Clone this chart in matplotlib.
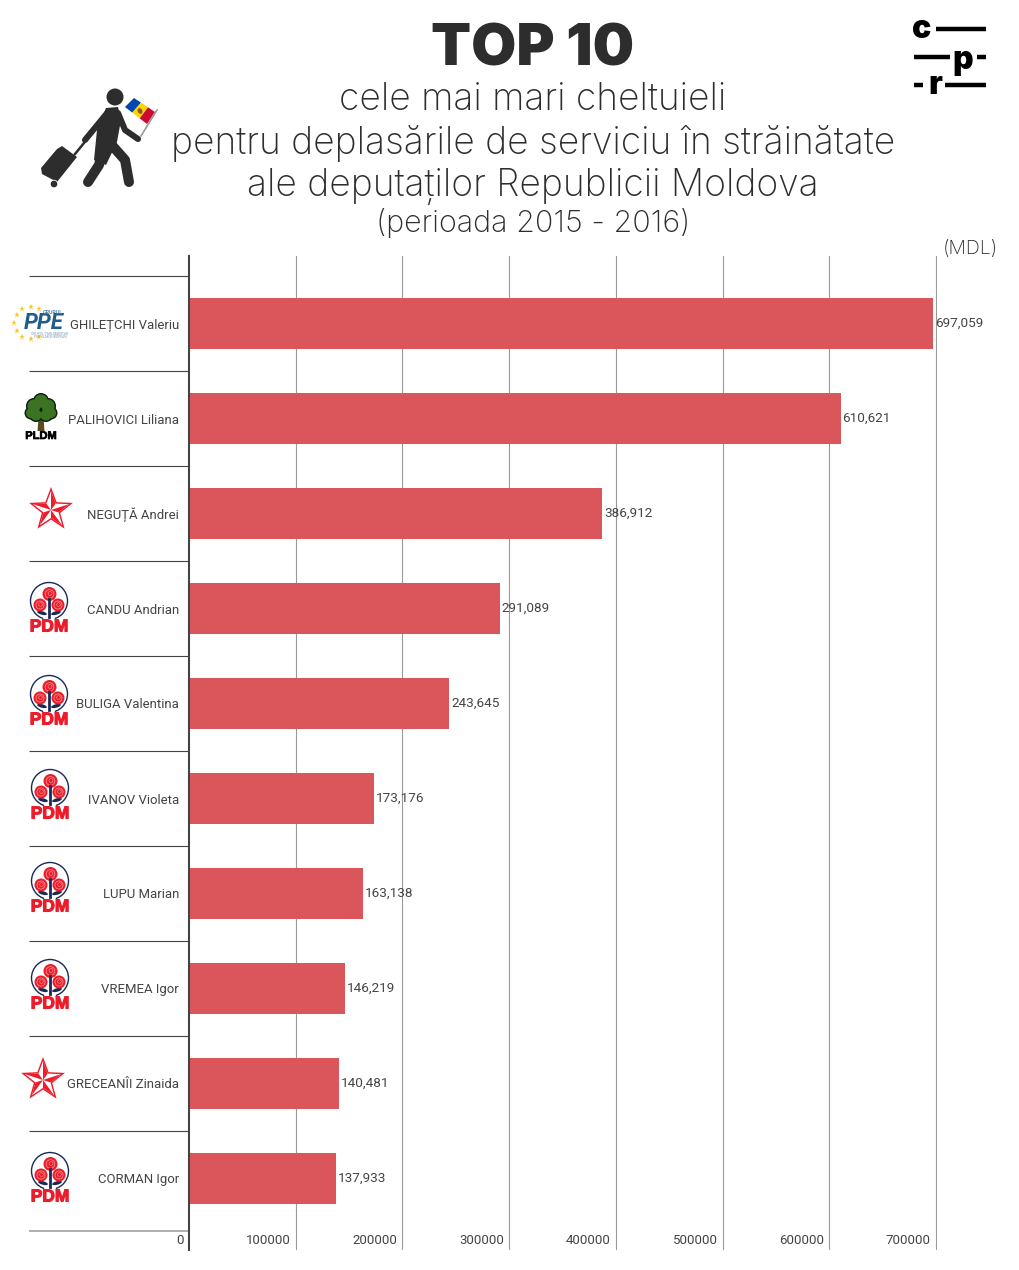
import math
import matplotlib
matplotlib.use('Agg')
import matplotlib.pyplot as plt
import matplotlib.patheffects as pe
from matplotlib.patches import Circle, Polygon, Ellipse

names = ['GHILEȚCHI Valeriu', 'PALIHOVICI Liliana', 'NEGUȚĂ Andrei', 'CANDU Andrian', 'BULIGA Valentina',
         'IVANOV Violeta', 'LUPU Marian', 'VREMEA Igor', 'GRECEANÎI Zinaida', 'CORMAN Igor']
values = [697059, 610621, 386912, 291089, 243645, 173176, 163138, 146219, 140481, 137933]
x_ticks = [100000, 200000, 300000, 400000, 500000, 600000, 700000]
title_lines = ['cele mai mari cheltuieli', 'pentru deplasările de serviciu în străinătate',
               'ale deputaților Republicii Moldova']

W, H = 1020, 1270
DARK = '#2e2d2e'
TEXT = '#444444'
BAR = '#db565b'
RED = '#ed1c2a'

def draw_star(ax, x, y, r):
    # steaua cu fatete
    outer = []
    for i in range(10):
        rad = r if i % 2 == 0 else r * 0.42
        a = math.radians(-90 + i * 36)
        outer.append((x + rad * math.cos(a), y + rad * math.sin(a)))
    ax.add_patch(Polygon(outer, color=RED, lw=0))
    inner = [(x + (px - x) * 0.82, y + (py - y) * 0.82) for px, py in outer]
    ax.add_patch(Polygon(inner, color='white', lw=0))
    for i in range(0, 10, 2):
        ax.add_patch(Polygon([(x, y), inner[i], inner[(i + 1) % 10]], color=RED, lw=0))

def draw_rose(ax, x, y, r):
    ax.add_patch(Circle((x, y), r, color=RED, lw=0))
    ax.add_patch(Circle((x, y), r * 0.62, fill=False, ec='#f6a0a0', lw=0.5))
    ax.add_patch(Circle((x + 0.5, y - 0.5), r * 0.28, fill=False, ec='#f6a0a0', lw=0.4))

def draw_pdm(ax, x, y, text_y):
    ax.add_patch(Circle((x, y), 18.5, fill=False, ec='#1b2a55', lw=1.0))
    ax.add_patch(Circle((x, y + 16), 6, color='white', lw=0))
    ax.plot([x, x], [y - 2, y + 16], color='#1b2a55', lw=2)
    ax.add_patch(Ellipse((x - 7, y + 12), 10, 3.5, angle=15, color='#1b2a55', lw=0))
    ax.add_patch(Ellipse((x + 7, y + 12), 10, 3.5, angle=-15, color='#1b2a55', lw=0))
    draw_rose(ax, x + 0.5, y - 7, 7)
    draw_rose(ax, x - 9, y + 4, 6.5)
    draw_rose(ax, x + 9, y + 4, 6.5)
    ax.text(x, text_y + 1, 'PDM', color=RED, fontsize=12.5, fontweight='bold', family='Liberation Sans',
            ha='center', va='center', path_effects=[pe.withStroke(linewidth=0.8, foreground=RED)])

def draw_ppe(ax, x, y):
    stars = [(31, 307), (39, 309), (22, 309), (17, 315), (14, 323), (17, 331), (22, 337), (31, 339), (39, 337)]
    for sx, sy in stars:
        ax.plot(sx, sy, marker='*', color='#f5c83c', ms=4.5, mew=0)
    ax.text(x + 4, y, 'PPE', color='#1f5c8c', fontsize=16, fontweight='bold', style='italic',
            family='Roboto', ha='center', va='center')
    ax.text(x + 13, y - 11, 'GRUPUL', color='#5d87a8', fontsize=3.8, fontweight='bold', ha='center', va='center',
            family='Roboto')
    ax.text(x + 10, y + 11, 'GRUPUL PARLAMENTAR', color='#7c9cb6', fontsize=2.4, ha='center', va='center',
            family='Roboto')
    ax.text(x + 10, y + 14, 'POPULAR EUROPEAN', color='#7c9cb6', fontsize=2.4, ha='center', va='center',
            family='Roboto')

def draw_pldm(ax, x, y):
    ax.add_patch(Polygon([(x - 2.5, 418), (x + 2.5, 418), (x + 3.5, 431), (x - 3.5, 431)], color='#5a4a22', lw=0))
    blobs = [(0, -17, 8), (-7, -12, 8), (7, -12, 8), (-10, -5, 6.5), (10, -5, 6.5), (-5, -3, 7), (5, -3, 7)]
    for dx, dy, r in blobs:
        ax.add_patch(Circle((x + dx, y + dy), r, color='#0d1a0a', lw=0))
    for dx, dy, r in blobs:
        ax.add_patch(Circle((x + dx, y + dy), r - 1.4, color='#3a7423', lw=0))
    ax.text(x, 436, 'PLDM', color='black', fontsize=8, fontweight='bold', family='Liberation Sans',
            ha='center', va='center', path_effects=[pe.withStroke(linewidth=0.5, foreground='black')])

def draw_traveler(ax):
    ax.add_patch(Circle((115, 97), 8.5, color=DARK, lw=0))
    ax.add_patch(Polygon([(106, 108), (118, 107), (121, 120), (117, 142), (106, 165), (94, 160), (97, 130)], color=DARK, lw=0))
    limbs = [[(108, 112), (85, 140)], [(118, 113), (125, 130), (138, 139)],
             [(103, 148), (99, 165), (88, 182)], [(110, 143), (125, 160), (129, 182)]]
    for i, limb in enumerate(limbs):
        ax.plot(*zip(*limb), color=DARK, lw=4.4 if i < 2 else 7.2, solid_capstyle='round', solid_joinstyle='round')
    ax.add_patch(Polygon([(41, 168), (57, 149), (62, 146), (77, 157), (57, 182), (42, 174)], color=DARK, lw=0))
    ax.plot([75, 84], [154, 143], color=DARK, lw=1.8)
    ax.add_patch(Circle((54, 184), 3.8, color=DARK, ec='white', lw=0.6))
    # steagul
    ax.plot([157, 141], [110, 136], color='#999999', lw=1.2)
    a, b, c, d = (125, 107), (134, 98), (155, 112), (147, 124)
    colors = ['#0046ae', '#ffd200', '#cc092f']
    for i in range(3):
        t0, t1 = i / 3, (i + 1) / 3
        ax.add_patch(Polygon([(a[0] + (d[0] - a[0]) * t0, a[1] + (d[1] - a[1]) * t0),
                              (b[0] + (c[0] - b[0]) * t0, b[1] + (c[1] - b[1]) * t0),
                              (b[0] + (c[0] - b[0]) * t1, b[1] + (c[1] - b[1]) * t1),
                              (a[0] + (d[0] - a[0]) * t1, a[1] + (d[1] - a[1]) * t1)], color=colors[i], lw=0))
    ax.add_patch(Ellipse((140, 111), 4.5, 6, angle=-30, color='#8a5a2a', lw=0))

def draw_cpr(ax):
    for x0, x1, y in [(936, 986, 29), (914, 950, 57), (977, 986, 57), (914, 923, 85), (945, 986, 85)]:
        ax.plot([x0, x1], [y, y], color='black', lw=3.2, solid_capstyle='butt')
    for s, x, y in [('c', 922, 30), ('p', 963, 60), ('r', 935, 85)]:
        ax.text(x, y, s, color='black', fontsize=23, fontweight='black', family='Inter', ha='center', va='center')

def main():
    plt.figure(figsize=(W / 100, H / 100), dpi=100)
    plt.rcParams['font.family'] = 'Roboto'

    plt.axes([189 / W, 1 - 1250 / H, 748 / W, (1250 - 256) / H])
    positions = list(range(len(names)))
    plt.barh(positions, values, height=0.537, color=BAR, zorder=3)
    plt.xlim(0, 701000)
    plt.ylim((1250 - 323.5) / 95, (256 - 323.5) / 95)
    plt.xticks(x_ticks)
    plt.yticks(positions, names, fontsize=9.45, color=TEXT, va='center_baseline')
    plt.tick_params(axis='y', length=0, pad=7.2)
    plt.tick_params(axis='x', length=0, labelbottom=False)
    plt.grid(axis='x', color='#999999', lw=0.8, zorder=0)
    ax = plt.gca()
    for side in ['top', 'right', 'bottom']:
        ax.spines[side].set_visible(False)
    ax.spines['left'].set_color(TEXT)
    ax.spines['left'].set_linewidth(1.5)
    ax.spines['left'].set_zorder(5)

    for pos, val in zip(positions, values):
        plt.annotate(f'{val:,}', (val, pos), xytext=(2, 0), textcoords='offset pixels', ha='left', va='center',
                     fontsize=9.7, color=TEXT, annotation_clip=False)
    for tick in [0] + x_ticks:
        plt.annotate(str(tick), (tick, 0), xycoords=('data', 'axes fraction'), xytext=(-5, 9),
                     textcoords='offset pixels', ha='right', va='center', fontsize=9.5, color=TEXT,
                     annotation_clip=False)

    # strat in pixeli pentru logo-uri si titlu
    over = plt.axes([0, 0, 1, 1], facecolor='none')
    over.set_xlim(0, W)
    over.set_ylim(H, 0)
    over.axis('off')

    for i in range(10):
        over.plot([29, 188], [276 + i * 95] * 2, color=TEXT, lw=0.8, solid_capstyle='butt')
    over.plot([29, 188], [1231, 1231], color='#999999', lw=1.1, solid_capstyle='butt')

    over.text(533, 51, 'TOP 10', fontsize=42, fontweight='black', family='Inter', color=DARK, ha='center', va='center')
    for line, y in zip(title_lines, [100, 143, 186]):
        over.text(533, y, line, fontsize=26.7, fontweight='light', family='Inter', color=DARK, ha='center', va='center')
    over.text(533, 223, '(perioada 2015 - 2016)', fontsize=22, fontweight='light', family='Inter', color=DARK,
              ha='center', va='center')
    over.text(970, 249, '(MDL)', fontsize=14, fontweight='light', family='Inter', color=DARK, ha='center', va='center')

    draw_traveler(over)
    draw_cpr(over)
    draw_ppe(over, 40, 323)
    draw_pldm(over, 41, 418)
    draw_star(over, 51, 510, 23)
    draw_star(over, 43, 1080, 23)
    for x, y, ty in [(49, 601, 626), (49, 694, 719), (50, 788, 813), (50, 881, 906), (50, 978, 1003), (50, 1171, 1196)]:
        draw_pdm(over, x, y, ty)

    plt.savefig('out.png', dpi=100)

if __name__ == "__main__":
    main()
